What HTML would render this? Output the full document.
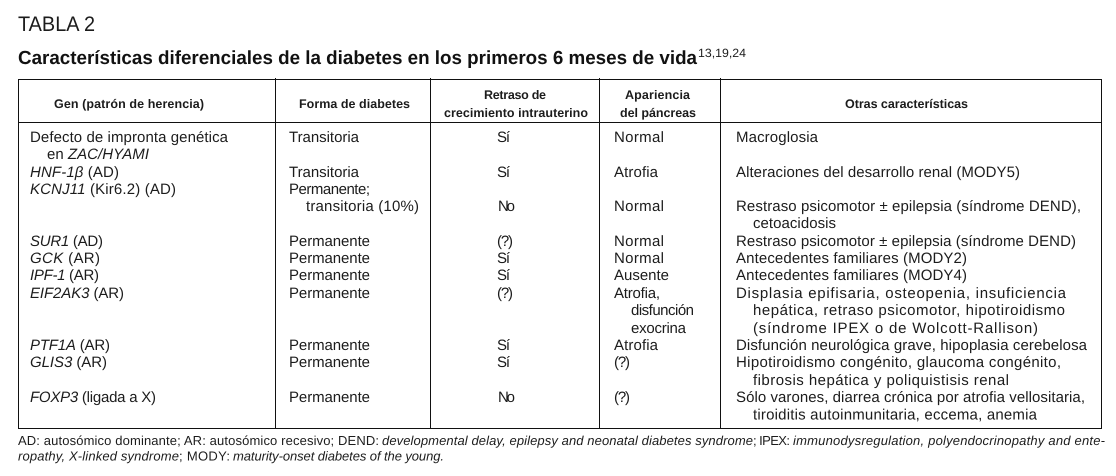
<!DOCTYPE html>
<html lang="es"><head><meta charset="utf-8"><title>Tabla 2</title>
<style>
html,body{margin:0;padding:0;background:#fff;width:1116px;height:476px;overflow:hidden}
svg{display:block;font-family:"Liberation Sans",sans-serif;fill:#1c1c1c;text-rendering:geometricPrecision}
text{font-size:15px}
.h{font-size:12.5px;font-weight:bold}
.f{font-size:13px}
.i{font-style:italic}
line{stroke:#111;stroke-width:1;shape-rendering:crispEdges}
</style></head><body>
<svg width="1116" height="476" viewBox="0 0 1116 476">
<g>
<text x="18" y="31" style="font-size:21px" textLength="77" lengthAdjust="spacingAndGlyphs">TABLA 2</text>
<text x="18" y="64" style="font-size:19px;font-weight:bold;fill:#111" textLength="679" lengthAdjust="spacingAndGlyphs">Características diferenciales de la diabetes en los primeros 6 meses de vida</text>
<text x="698" y="57" style="font-size:12px" textLength="48" lengthAdjust="spacingAndGlyphs">13,19,24</text>
</g>
<g>
<line x1="18" y1="79.5" x2="1102" y2="79.5"/>
<line x1="18" y1="122.5" x2="1102" y2="122.5"/>
<line x1="18" y1="428.5" x2="1102" y2="428.5"/>
<line x1="18.5" y1="79" x2="18.5" y2="429"/>
<line x1="275.5" y1="78" x2="275.5" y2="429"/>
<line x1="430.5" y1="78" x2="430.5" y2="429"/>
<line x1="599.5" y1="78" x2="599.5" y2="429"/>
<line x1="720.5" y1="78" x2="720.5" y2="429"/>
<line x1="1101.5" y1="79" x2="1101.5" y2="429"/>
</g>
<g>
<text class="h" x="54" y="108" textLength="150" lengthAdjust="spacing">Gen (patrón de herencia)</text>
<text class="h" x="299" y="108" textLength="111" lengthAdjust="spacing">Forma de diabetes</text>
<text class="h" x="484" y="99" textLength="62" lengthAdjust="spacing">Retraso de</text>
<text class="h" x="444" y="117" textLength="144" lengthAdjust="spacing">crecimiento intrauterino</text>
<text class="h" x="625" y="99" textLength="65" lengthAdjust="spacing">Apariencia</text>
<text class="h" x="620" y="117" textLength="76" lengthAdjust="spacing">del páncreas</text>
<text class="h" x="845" y="108" textLength="123" lengthAdjust="spacing">Otras características</text>
</g>
<g>
<text x="30" y="142" textLength="198" lengthAdjust="spacing">Defecto de impronta genética</text>
<text x="47" y="159" textLength="102" lengthAdjust="spacing">en <tspan class="i">ZAC/HYAMI</tspan></text>
<text x="30" y="177" textLength="89" lengthAdjust="spacing"><tspan class="i">HNF-1β</tspan> (AD)</text>
<text x="30" y="194" textLength="146" lengthAdjust="spacing"><tspan class="i">KCNJ11</tspan> (Kir6.2) (AD)</text>
<text x="30" y="246" textLength="73" lengthAdjust="spacing"><tspan class="i">SUR1</tspan> (AD)</text>
<text x="30" y="263" textLength="70" lengthAdjust="spacing"><tspan class="i">GCK</tspan> (AR)</text>
<text x="30" y="280" textLength="69" lengthAdjust="spacing"><tspan class="i">IPF-1</tspan> (AR)</text>
<text x="30" y="298" textLength="94" lengthAdjust="spacing"><tspan class="i">EIF2AK3</tspan> (AR)</text>
<text x="30" y="350" textLength="80" lengthAdjust="spacing"><tspan class="i">PTF1A</tspan> (AR)</text>
<text x="30" y="367" textLength="77" lengthAdjust="spacing"><tspan class="i">GLIS3</tspan> (AR)</text>
<text x="30" y="402" textLength="126" lengthAdjust="spacing"><tspan class="i">FOXP3</tspan> (ligada a X)</text>
</g>
<g>
<text x="289" y="142" textLength="70" lengthAdjust="spacing">Transitoria</text>
<text x="289" y="177" textLength="70" lengthAdjust="spacing">Transitoria</text>
<text x="289" y="194" textLength="81" lengthAdjust="spacing">Permanente;</text>
<text x="306" y="211" textLength="113" lengthAdjust="spacing">transitoria (10%)</text>
<text x="289" y="246" textLength="81" lengthAdjust="spacing">Permanente</text>
<text x="289" y="263" textLength="81" lengthAdjust="spacing">Permanente</text>
<text x="289" y="280" textLength="81" lengthAdjust="spacing">Permanente</text>
<text x="289" y="298" textLength="81" lengthAdjust="spacing">Permanente</text>
<text x="289" y="350" textLength="81" lengthAdjust="spacing">Permanente</text>
<text x="289" y="367" textLength="81" lengthAdjust="spacing">Permanente</text>
<text x="289" y="402" textLength="81" lengthAdjust="spacing">Permanente</text>
</g>
<g>
<text x="497" y="142" textLength="13" lengthAdjust="spacing">Sí</text>
<text x="497" y="177" textLength="13" lengthAdjust="spacing">Sí</text>
<text x="498" y="211" textLength="17" lengthAdjust="spacing">No</text>
<text x="497" y="246" textLength="16" lengthAdjust="spacing">(?)</text>
<text x="497" y="263" textLength="13" lengthAdjust="spacing">Sí</text>
<text x="497" y="280" textLength="13" lengthAdjust="spacing">Sí</text>
<text x="497" y="298" textLength="16" lengthAdjust="spacing">(?)</text>
<text x="497" y="350" textLength="13" lengthAdjust="spacing">Sí</text>
<text x="497" y="367" textLength="13" lengthAdjust="spacing">Sí</text>
<text x="498" y="402" textLength="17" lengthAdjust="spacing">No</text>
</g>
<g>
<text x="614" y="142" textLength="50" lengthAdjust="spacing">Normal</text>
<text x="614" y="177" textLength="44" lengthAdjust="spacing">Atrofia</text>
<text x="614" y="211" textLength="50" lengthAdjust="spacing">Normal</text>
<text x="614" y="246" textLength="50" lengthAdjust="spacing">Normal</text>
<text x="614" y="263" textLength="50" lengthAdjust="spacing">Normal</text>
<text x="614" y="280" textLength="55" lengthAdjust="spacing">Ausente</text>
<text x="614" y="298" textLength="46" lengthAdjust="spacing">Atrofia,</text>
<text x="631" y="315" textLength="63" lengthAdjust="spacing">disfunción</text>
<text x="631" y="333" textLength="55" lengthAdjust="spacing">exocrina</text>
<text x="614" y="350" textLength="44" lengthAdjust="spacing">Atrofia</text>
<text x="614" y="367" textLength="16" lengthAdjust="spacing">(?)</text>
<text x="614" y="402" textLength="16" lengthAdjust="spacing">(?)</text>
</g>
<g>
<text x="736" y="142" textLength="82" lengthAdjust="spacing">Macroglosia</text>
<text x="736" y="177" textLength="284" lengthAdjust="spacing">Alteraciones del desarrollo renal (MODY5)</text>
<text x="736" y="211" textLength="345" lengthAdjust="spacing">Restraso psicomotor ± epilepsia (síndrome DEND),</text>
<text x="753" y="228" textLength="83" lengthAdjust="spacing">cetoacidosis</text>
<text x="736" y="246" textLength="340" lengthAdjust="spacing">Restraso psicomotor ± epilepsia (síndrome DEND)</text>
<text x="736" y="263" textLength="231" lengthAdjust="spacing">Antecedentes familiares (MODY2)</text>
<text x="736" y="280" textLength="231" lengthAdjust="spacing">Antecedentes familiares (MODY4)</text>
<text x="736" y="298" textLength="330" lengthAdjust="spacing">Displasia epifisaria, osteopenia, insuficiencia</text>
<text x="753" y="315" textLength="312" lengthAdjust="spacing">hepática, retraso psicomotor, hipotiroidismo</text>
<text x="753" y="333" textLength="285" lengthAdjust="spacing">(síndrome IPEX o de Wolcott-Rallison)</text>
<text x="736" y="350" textLength="351" lengthAdjust="spacing">Disfunción neurológica grave, hipoplasia cerebelosa</text>
<text x="736" y="367" textLength="325" lengthAdjust="spacing">Hipotiroidismo congénito, glaucoma congénito,</text>
<text x="753" y="385" textLength="256" lengthAdjust="spacing">fibrosis hepática y poliquistisis renal</text>
<text x="736" y="402" textLength="349" lengthAdjust="spacing">Sólo varones, diarrea crónica por atrofia vellositaria,</text>
<text x="753" y="419.5" textLength="284" lengthAdjust="spacing">tiroiditis autoinmunitaria, eccema, anemia</text>
</g>
<g>
<text class="f" x="18" y="445" textLength="361" lengthAdjust="spacing">AD: autosómico dominante; AR: autosómico recesivo; DEND:</text>
<text class="f i" x="382" y="445" textLength="371" lengthAdjust="spacing">developmental delay, epilepsy and neonatal diabetes syndrome</text>
<text class="f" x="753" y="445" textLength="37" lengthAdjust="spacing">; IPEX:</text>
<text class="f i" x="793" y="445" textLength="312" lengthAdjust="spacing">immunodysregulation, polyendocrinopathy and ente-</text>
<text class="f i" x="18" y="460.5" textLength="161" lengthAdjust="spacing">ropathy, X-linked syndrome</text>
<text class="f" x="179" y="460.5" textLength="51" lengthAdjust="spacing">; MODY:</text>
<text class="f i" x="233" y="460.5" textLength="211" lengthAdjust="spacing">maturity-onset diabetes of the young.</text>
</g>
</svg>
</body></html>
